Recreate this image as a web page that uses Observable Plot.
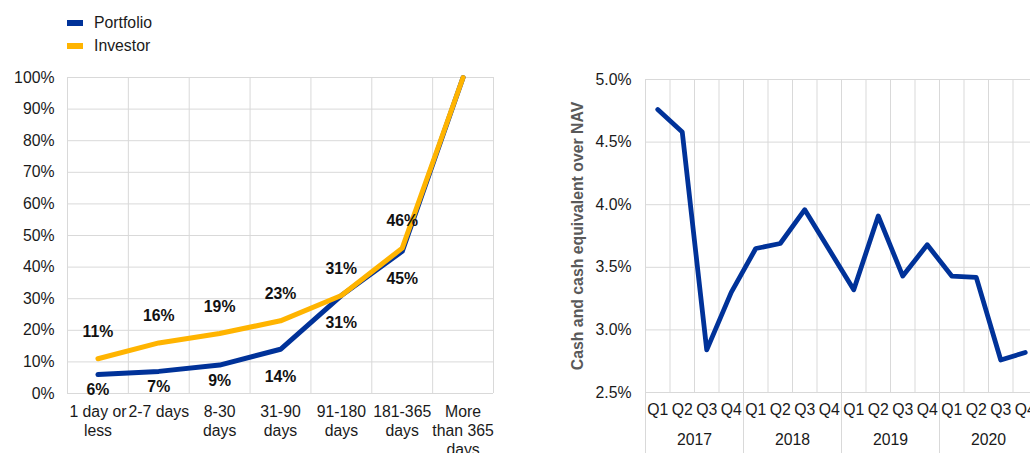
<!DOCTYPE html>
<html>
<head>
<meta charset="utf-8">
<script src="https://cdn.jsdelivr.net/npm/d3@7"></script>
<script src="https://cdn.jsdelivr.net/npm/@observablehq/plot@0.6"></script>
<style>
  html, body { margin: 0; padding: 0; background: #fff; overflow: hidden; }
  body { width: 1030px; height: 453px; position: relative; font-family: "Liberation Sans", Arial, sans-serif; }
  #legend { position: absolute; left: 67px; top: 11px; font-size: 15.8px; color: #1a1a1a; }
  .item { position: relative; height: 23.5px; display: flex; align-items: center; }
  .sw { width: 16px; height: 6px; margin-right: 11px; }
  #left { position: absolute; left: 0; top: 62px; }
  #rightWrap { position: absolute; left: 540px; top: 0; width: 490px; height: 453px; overflow: hidden; }
  svg { max-width: none !important; }
</style>
</head>
<body>
<div id="legend"></div>
<div id="left"></div>
<div id="rightWrap"><div id="right"></div></div>
<script>
// ---- Left chart data ----
const categories = ["1 day or\nless", "2-7 days", "8-30\ndays", "31-90\ndays", "91-180\ndays", "181-365\ndays", "More\nthan 365\ndays"];
const portfolio = [6, 7, 9, 14, 31, 45, 100];
const investor = [11, 16, 19, 23, 31, 46, 100];
const leftYTicks = [0, 10, 20, 30, 40, 50, 60, 70, 80, 90, 100];
const seriesNames = ["Portfolio", "Investor"];
const seriesColors = ["#003299", "#FFB400"];

// ---- Right chart data ----
const quarters = ["Q1", "Q2", "Q3", "Q4"];
const years = ["2017", "2018", "2019", "2020"];
const cash = [4.76, 4.58, 2.84, 3.30, 3.65, 3.69, 3.96, 3.64, 3.32, 3.91, 3.43, 3.68, 3.43, 3.42, 2.76, 2.82];
const rightYTicks = [2.5, 3.0, 3.5, 4.0, 4.5, 5.0];
const rightTitle = "Cash and cash equivalent over NAV";

const font = {fontFamily: "'Liberation Sans', Arial, sans-serif", fontSize: "15.8px", color: "#1a1a1a", background: "transparent", overflow: "visible", maxWidth: "none"};
const grid = "#d9d9d9";

// Legend
const legend = document.getElementById("legend");
seriesNames.forEach((n, i) => {
  const it = document.createElement("div");
  it.className = "item";
  it.innerHTML = `<span class="sw" style="background:${seriesColors[i]}"></span><span>${n}</span>`;
  legend.appendChild(it);
});

const portRows = portfolio.map((v, i) => ({i, v}));
const invRows = investor.map((v, i) => ({i, v}));

const left = Plot.plot({
  width: 520, height: 391,
  marginLeft: 67, marginRight: 27, marginTop: 15, marginBottom: 60,
  style: font,
  x: {type: "linear", domain: [0, categories.length]},
  y: {domain: [0, 100]},
  marks: [
    Plot.ruleY(leftYTicks, {stroke: grid, strokeWidth: 1}),
    Plot.ruleX(d3.range(categories.length + 1), {stroke: grid, strokeWidth: 1}),
    Plot.line(portRows, {x: d => d.i + 0.5, y: "v", stroke: seriesColors[0], strokeWidth: 5, strokeLinejoin: "round"}),
    Plot.line(invRows, {x: d => d.i + 0.5, y: "v", stroke: seriesColors[1], strokeWidth: 5, strokeLinejoin: "round"}),
    Plot.text(invRows.filter(d => d.i < categories.length - 1), {x: d => d.i + 0.5, y: "v", dy: -27, text: d => d.v + "%", fontWeight: "bold", fill: "#111"}),
    Plot.text(portRows.filter(d => d.i < categories.length - 1), {x: d => d.i + 0.5, y: d => d.v - (d.v < 10 ? 5 : 8.8), text: d => d.v + "%", fontWeight: "bold", fill: "#111"}),
    Plot.axisY({ticks: leftYTicks, tickFormat: d => d + "%", tickSize: 0, tickPadding: 13, label: null}),
    Plot.axisX({ticks: d3.range(categories.length).map(i => i + 0.5), tickFormat: t => categories[Math.floor(t)], tickSize: 0, tickPadding: 10, lineHeight: 1.2, label: null})
  ]
});
document.getElementById("left").appendChild(left);

const cashRows = cash.map((v, i) => ({i, v}));
const right = Plot.plot({
  width: 497, height: 453,
  marginLeft: 105, marginRight: 0, marginTop: 79, marginBottom: 61,
  style: font,
  x: {type: "linear", domain: [0, cash.length]},
  y: {domain: [2.5, 5.0]},
  marks: [
    Plot.ruleY(rightYTicks, {stroke: grid, strokeWidth: 1}),
    Plot.ruleX(d3.range(cash.length + 1), {stroke: grid, strokeWidth: 1}),
    Plot.ruleX(d3.range(years.length + 1).map(k => k * 4), {stroke: grid, strokeWidth: 1, insetBottom: -61}),
    Plot.line(cashRows, {x: d => d.i + 0.5, y: "v", stroke: "#003299", strokeWidth: 4.8, strokeLinejoin: "round"}),
    Plot.axisY({ticks: rightYTicks, tickFormat: d => d.toFixed(1) + "%", tickSize: 0, tickPadding: 14, label: null}),
    Plot.axisX({ticks: d3.range(cash.length).map(i => i + 0.5), tickFormat: t => quarters[Math.floor(t) % 4], tickSize: 0, tickPadding: 11, label: null}),
    Plot.text(years, {x: (d, k) => k * 4 + 2, frameAnchor: "bottom", dy: 52, text: d => d}),
    Plot.text([rightTitle], {frameAnchor: "left", textAnchor: "middle", rotate: -90, dx: -68, text: d => d, fontWeight: "bold", fill: "#595959"})
  ]
});
document.getElementById("right").appendChild(right);
</script>
</body>
</html>
